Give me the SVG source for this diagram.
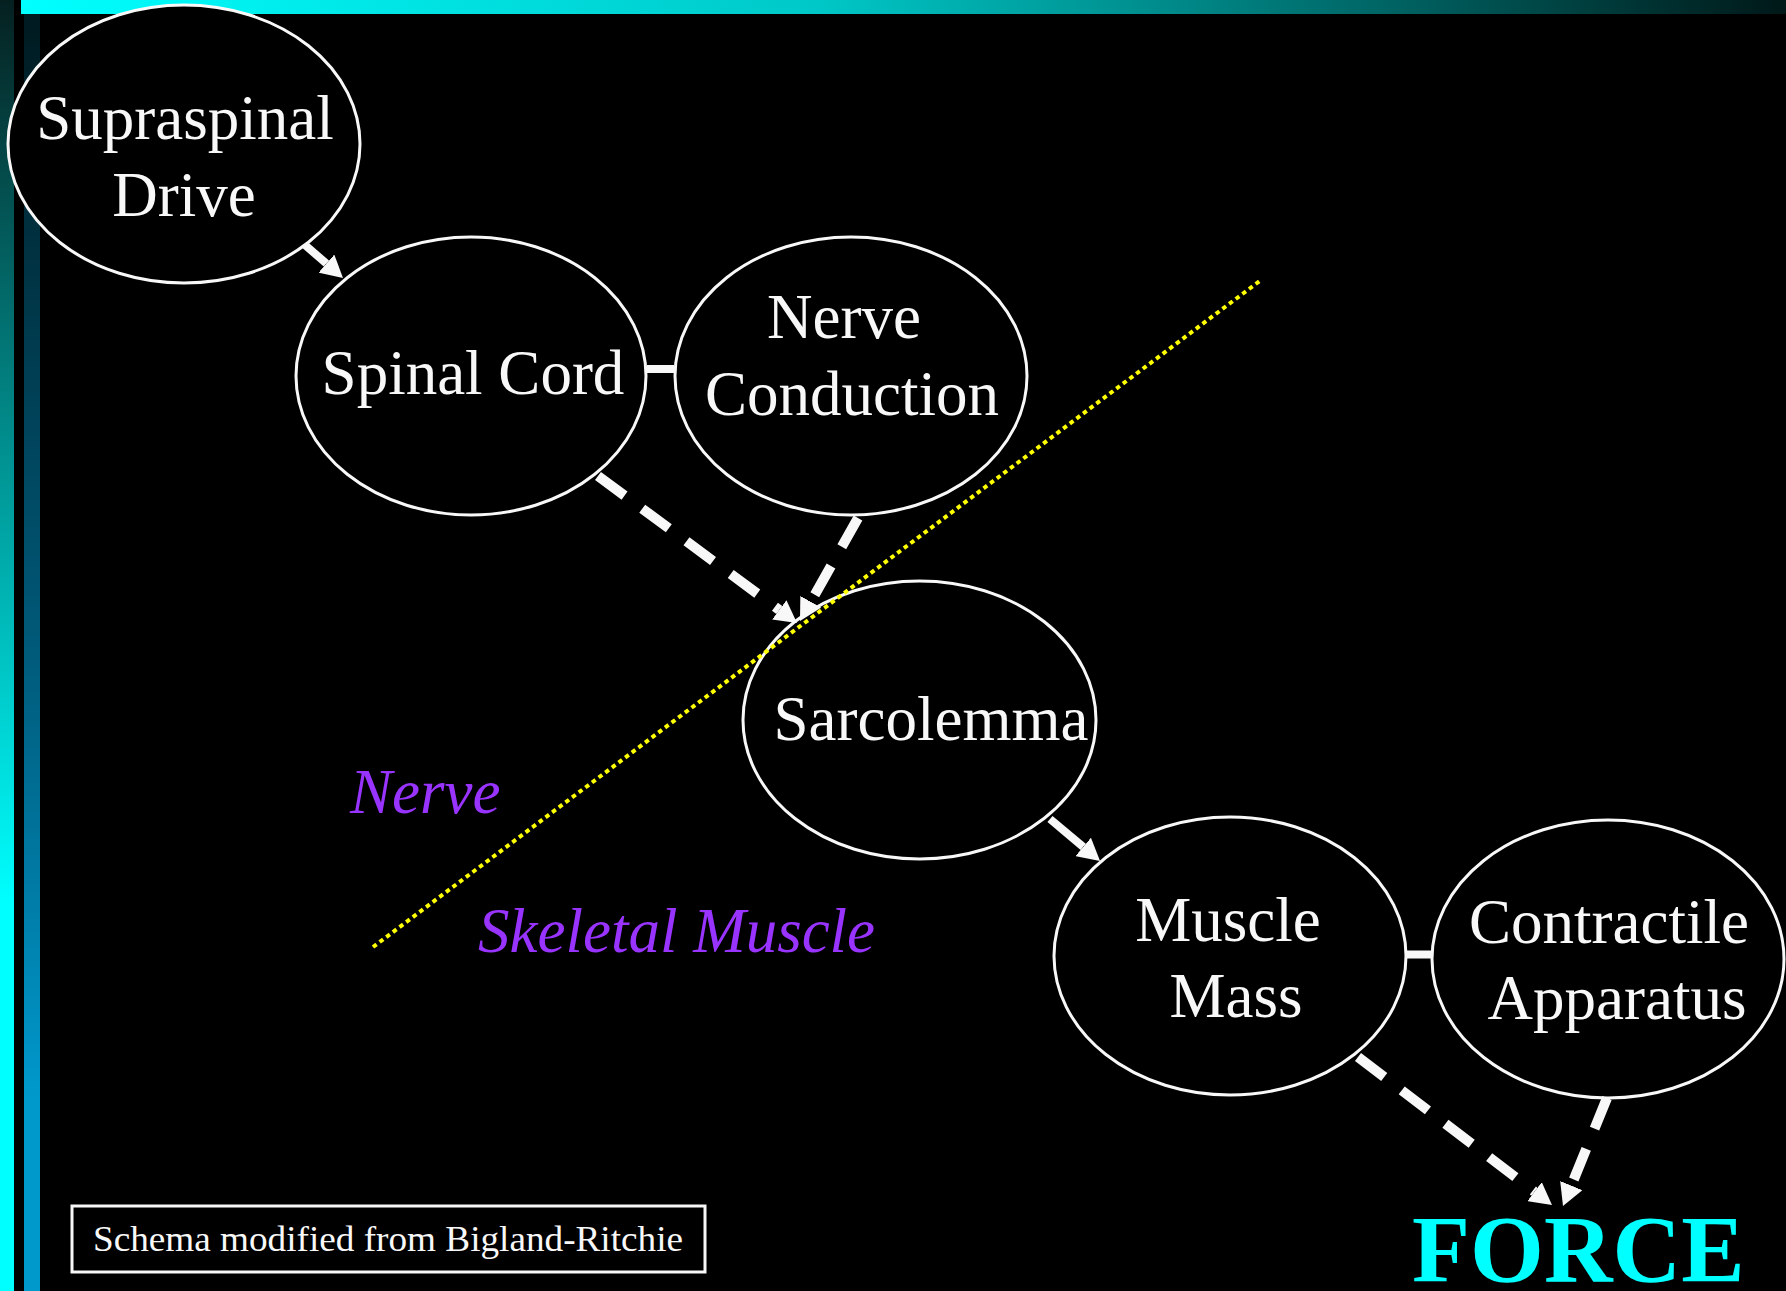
<svg xmlns="http://www.w3.org/2000/svg" width="1786" height="1291" viewBox="0 0 1786 1291">
  <defs>
    <linearGradient id="gTop" x1="0" y1="0" x2="1" y2="0">
      <stop offset="0" stop-color="#00ffff"/>
      <stop offset="0.45" stop-color="#00c8c8"/>
      <stop offset="0.78" stop-color="#006262"/>
      <stop offset="1" stop-color="#001818"/>
    </linearGradient>
    <linearGradient id="gBar1" x1="0" y1="0" x2="0" y2="1">
      <stop offset="0" stop-color="#062020"/>
      <stop offset="0.4" stop-color="#00a0a0"/>
      <stop offset="0.7" stop-color="#00ffff"/>
      <stop offset="1" stop-color="#00ffff"/>
    </linearGradient>
    <linearGradient id="gBar2" x1="0" y1="0" x2="0" y2="1">
      <stop offset="0" stop-color="#001a20"/>
      <stop offset="0.5" stop-color="#005a7a"/>
      <stop offset="0.85" stop-color="#0099cc"/>
      <stop offset="1" stop-color="#0099cc"/>
    </linearGradient>
    <marker id="ah" viewBox="0 -12 22 24" refX="0" refY="0" markerWidth="22" markerHeight="24" markerUnits="userSpaceOnUse" orient="auto">
      <path d="M0,-12 L22,0 L0,12 z" fill="#f8f8f8"/>
    </marker>
    <style>
      .node ellipse { fill: #000; stroke: #f8f8f8; stroke-width: 3; }
      .lbl { font-family: "Liberation Serif", "Times New Roman", serif; font-size: 63px; fill: #f8f8f8; text-anchor: middle; }
      .region { font-family: "Liberation Serif", "Times New Roman", serif; font-size: 63px; font-style: italic; fill: #9933ff; }
      .solid { stroke: #f8f8f8; stroke-width: 8; fill: none; marker-end: url(#ah); }
      .dashed { stroke: #f8f8f8; stroke-width: 10; fill: none; stroke-dasharray: 33 22; marker-end: url(#ah); }
      .bar { stroke: #f8f8f8; stroke-width: 8; }
    </style>
  </defs>

  <rect x="0" y="0" width="1786" height="1291" fill="#000"/>
  <rect x="21" y="0" width="1765" height="14" fill="url(#gTop)"/>
  <rect x="0" y="0" width="14" height="1291" fill="url(#gBar1)"/>
  <rect x="24" y="14" width="16" height="1277" fill="url(#gBar2)"/>

  <g id="node-supraspinal" class="node">
    <ellipse cx="184" cy="144" rx="176" ry="139"/>
    <text class="lbl" x="185" y="139">Supraspinal</text>
    <text class="lbl" x="184" y="216">Drive</text>
  </g>
  <g id="node-spinal-cord" class="node">
    <ellipse cx="471" cy="376" rx="175" ry="139"/>
    <text class="lbl" x="473" y="394">Spinal Cord</text>
  </g>
  <g id="node-nerve-conduction" class="node">
    <ellipse cx="851" cy="376" rx="176" ry="139"/>
    <text class="lbl" x="844" y="338">Nerve</text>
    <text class="lbl" x="852" y="415">Conduction</text>
  </g>
  <g id="node-sarcolemma" class="node">
    <ellipse cx="919.5" cy="720" rx="176.5" ry="139"/>
    <text class="lbl" x="931" y="740">Sarcolemma</text>
  </g>
  <g id="node-muscle-mass" class="node">
    <ellipse cx="1230" cy="956" rx="176" ry="139"/>
    <text class="lbl" x="1228" y="941">Muscle</text>
    <text class="lbl" x="1236" y="1017">Mass</text>
  </g>
  <g id="node-contractile" class="node">
    <ellipse cx="1608" cy="959" rx="176" ry="139"/>
    <text class="lbl" x="1609" y="943">Contractile</text>
    <text class="lbl" x="1617" y="1019">Apparatus</text>
  </g>

  <line id="boundary" x1="373" y1="947" x2="1261" y2="280" stroke="#ffff00" stroke-width="4" stroke-dasharray="4.5 3.8"/>

  <g id="node-force">
    <text x="1412" y="1282" font-family="'Liberation Serif', 'Times New Roman', serif" font-size="95" font-weight="bold" fill="#00ffff">FORCE</text>
  </g>

  <g id="labels">
    <text class="region" x="350" y="813">Nerve</text>
    <text class="region" x="478" y="952">Skeletal Muscle</text>
  </g>

  <g id="connectors">
    <line class="solid" x1="305" y1="245" x2="326.4" y2="263.6"/>
    <line class="bar" x1="647" y1="369" x2="674" y2="369"/>
    <line class="dashed" x1="598" y1="476" x2="779.3" y2="609.9"/>
    <line class="dashed" x1="858" y1="518" x2="810.8" y2="601.8"/>
    <line class="solid" x1="1050" y1="819" x2="1083.2" y2="846.9"/>
    <line class="bar" x1="1406" y1="954.5" x2="1433" y2="954.5"/>
    <line class="dashed" x1="1358" y1="1057" x2="1534.5" y2="1191.7"/>
    <line class="dashed" x1="1607" y1="1098" x2="1571.3" y2="1185.6"/>
  </g>

  <g id="note">
    <rect x="72" y="1206" width="633" height="66" fill="none" stroke="#f8f8f8" stroke-width="3"/>
    <text x="388" y="1251" font-family="'Liberation Serif', 'Times New Roman', serif" font-size="35" fill="#f8f8f8" text-anchor="middle" textLength="590" lengthAdjust="spacingAndGlyphs">Schema modified from Bigland-Ritchie</text>
  </g>
</svg>
